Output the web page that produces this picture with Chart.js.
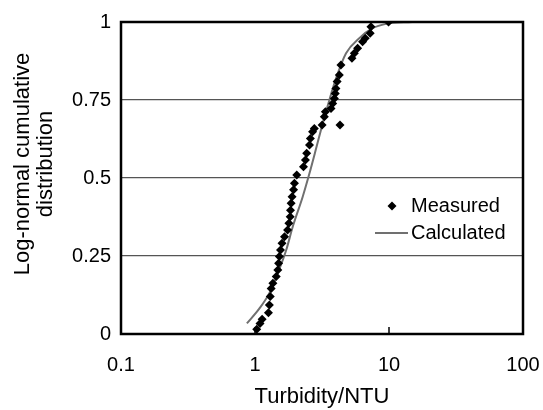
<!DOCTYPE html>
<html>
<head>
<meta charset="utf-8">
<script src="https://cdn.jsdelivr.net/npm/chart.js@4/dist/chart.umd.min.js"></script>
<style>
  html, body { margin: 0; padding: 0; background: #fff; }
  #wrap { width: 543px; height: 410px; }
</style>
</head>
<body>
<div id="wrap"><canvas id="cdfChart" width="543" height="410"></canvas></div>
<script>
const measuredX = [1.03, 1.09, 1.13, 1.26, 1.28, 1.30, 1.32, 1.36, 1.44, 1.48, 1.50, 1.52, 1.55, 1.59, 1.66, 1.75, 1.79, 1.83, 1.84, 1.86, 1.89, 1.94, 1.97, 2.05, 2.30, 2.38, 2.43, 2.55, 2.59, 2.69, 2.77, 3.17, 3.29, 3.35, 3.69, 3.80, 3.91, 3.97, 4.02, 4.10, 4.26, 4.38, 4.31, 5.29, 5.51, 5.83, 6.35, 6.65, 7.24, 7.33, 9.92];
const measuredY = [0.015, 0.034, 0.047, 0.068, 0.093, 0.120, 0.146, 0.163, 0.184, 0.205, 0.227, 0.248, 0.269, 0.291, 0.312, 0.333, 0.355, 0.376, 0.397, 0.419, 0.440, 0.462, 0.483, 0.510, 0.536, 0.558, 0.579, 0.606, 0.627, 0.648, 0.659, 0.670, 0.696, 0.712, 0.723, 0.739, 0.755, 0.771, 0.787, 0.809, 0.830, 0.862, 0.670, 0.884, 0.900, 0.916, 0.937, 0.948, 0.964, 0.985, 1.0];

const calcX = [0.87, 1.08, 1.28, 1.48, 1.71, 1.91, 2.27, 2.55, 2.86, 3.20, 3.59, 4.03, 4.78, 6.00, 7.54, 9.48, 14.9];
const calcY = [0.034, 0.082, 0.131, 0.195, 0.269, 0.343, 0.440, 0.515, 0.595, 0.675, 0.750, 0.820, 0.900, 0.948, 0.980, 0.994, 1.0];

const xTicks = [0.1, 1, 10, 100];
const yTicks = [0, 0.25, 0.5, 0.75, 1];

const xTitle = "Turbidity/NTU";
const yTitle = ["Log-normal cumulative", "distribution"];

const FONT = "'Liberation Sans', Arial, sans-serif";

function toPoints(xs, ys) {
  return xs.map((x, i) => ({ x: x, y: ys[i] }));
}

// frame, inward ticks, axis titles and the legend
const decorations = {
  id: "decorations",
  afterDraw(chart) {
    const ctx = chart.ctx;
    const a = chart.chartArea;
    const xs = chart.scales.x;
    ctx.save();

    ctx.strokeStyle = "#000";
    ctx.lineWidth = 1.5;
    xTicks.forEach(v => {
      const px = xs.getPixelForValue(v);
      ctx.beginPath();
      ctx.moveTo(px, a.bottom);
      ctx.lineTo(px, a.bottom - 7);
      ctx.stroke();
    });

    ctx.lineWidth = 2.5;
    ctx.strokeRect(a.left, a.top, a.right - a.left, a.bottom - a.top);

    ctx.fillStyle = "#000";
    ctx.font = "22px " + FONT;
    ctx.textAlign = "center";
    ctx.textBaseline = "middle";
    ctx.fillText(xTitle, (a.left + a.right) / 2, 397);

    ctx.save();
    ctx.translate(23, 164);
    ctx.rotate(-Math.PI / 2);
    ctx.fillText(yTitle[0], 0, 0);
    ctx.fillText(yTitle[1], 0, 23);
    ctx.restore();

    // legend
    const ds = chart.data.datasets;
    ctx.textAlign = "left";
    ctx.font = "20px " + FONT;
    const mx = 392, my = 206;
    ctx.beginPath();
    ctx.moveTo(mx, my - 4.5);
    ctx.lineTo(mx + 4.5, my);
    ctx.lineTo(mx, my + 4.5);
    ctx.lineTo(mx - 4.5, my);
    ctx.closePath();
    ctx.fill();
    ctx.fillText(ds[0].label, 411, my);

    ctx.strokeStyle = "#707070";
    ctx.lineWidth = 2;
    ctx.beginPath();
    ctx.moveTo(375, 233);
    ctx.lineTo(408, 233);
    ctx.stroke();
    ctx.fillText(ds[1].label, 411, 233);

    ctx.restore();
  }
};

new Chart(document.getElementById("cdfChart").getContext("2d"), {
  type: "scatter",
  data: {
    datasets: [
      {
        label: "Measured",
        data: toPoints(measuredX, measuredY),
        pointStyle: "rectRot",
        pointRadius: 4.5,
        backgroundColor: "#000",
        borderColor: "#000",
        borderWidth: 0,
        showLine: false,
        order: 1
      },
      {
        label: "Calculated",
        data: toPoints(calcX, calcY),
        showLine: true,
        pointRadius: 0,
        borderColor: "#707070",
        borderWidth: 2,
        cubicInterpolationMode: "monotone",
        order: 2
      }
    ]
  },
  options: {
    responsive: false,
    animation: false,
    layout: { padding: { top: 22, right: 20, left: 0, bottom: 0 } },
    plugins: {
      legend: { display: false },
      tooltip: { enabled: false }
    },
    scales: {
      x: {
        type: "logarithmic",
        min: 0.1,
        max: 100,
        afterFit(scale) {
          scale.height = 76;
          scale.paddingLeft = 0;
          scale.paddingRight = 0;
        },
        afterBuildTicks(scale) { scale.ticks = xTicks.map(v => ({ value: v })); },
        grid: { display: false, drawTicks: false },
        border: { display: false },
        ticks: {
          color: "#000",
          padding: 19,
          maxRotation: 0,
          autoSkip: false,
          font: { size: 20, family: FONT },
          callback: v => String(v)
        }
      },
      y: {
        min: 0,
        max: 1,
        afterFit(scale) {
          scale.width = 121;
          scale.paddingTop = 0;
          scale.paddingBottom = 0;
        },
        afterBuildTicks(scale) { scale.ticks = yTicks.map(v => ({ value: v })); },
        grid: { color: "#555", lineWidth: 1.2, drawTicks: false },
        border: { display: false },
        ticks: {
          color: "#000",
          padding: 10,
          font: { size: 20, family: FONT },
          callback: v => String(v)
        }
      }
    }
  },
  plugins: [decorations]
});
</script>
</body>
</html>
